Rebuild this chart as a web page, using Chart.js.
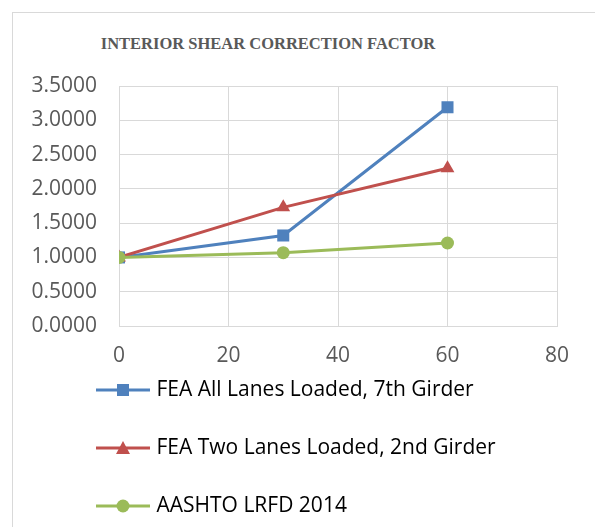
<!DOCTYPE html>
<html>
<head>
<meta charset="utf-8">
<script src="https://cdn.jsdelivr.net/npm/chart.js@4.4.0/dist/chart.umd.min.js"></script>
<style>
  html, body { margin: 0; padding: 0; background: #fff; }
  #wrap { position: relative; width: 595px; height: 527px; overflow: hidden; }
  #frame { position: absolute; left: 12px; top: 12px; width: 700px; height: 600px;
           border-left: 1px solid #d9d9d9; border-top: 1px solid #d9d9d9; }
  #title { position: absolute; left: 0; width: 536px; top: 34px; text-align: center;
           font: bold 16.5px "Liberation Serif", "Times New Roman", serif; color: #595959; }
  canvas { position: absolute; left: 0; top: 0; }
</style>
</head>
<body>
<div id="wrap">
  <div id="frame"></div>
  <div id="title">INTERIOR SHEAR CORRECTION FACTOR</div>
  <canvas id="chart" width="595" height="527"></canvas>
</div>
<script>
const xValues = [0, 30, 60];
const allLanes = [1.0, 1.32, 3.19];
const twoLanes = [1.0, 1.73, 2.30];
const aashto = [1.0, 1.07, 1.21];
const seriesNames = ['FEA All Lanes Loaded, 7th Girder', 'FEA Two Lanes Loaded, 2nd Girder', 'AASHTO LRFD 2014'];
const seriesColors = ['#4f81bd', '#c0504d', '#9bbb59'];
const seriesMarkers = ['rect', 'triangle', 'circle'];
const markerSizes = [8.5, 8, 6.5];

function toPoints(ys) {
    return xValues.map((x, i) => ({ x: x, y: ys[i] }));
}

// little line + marker picture for the legend
function legendIcon(color, marker) {
    const c = document.createElement('canvas');
    c.width = 54;
    c.height = 16;
    const g = c.getContext('2d');
    g.strokeStyle = color;
    g.fillStyle = color;
    g.lineWidth = 3;
    g.beginPath();
    g.moveTo(0, 8);
    g.lineTo(54, 8);
    g.stroke();
    g.beginPath();
    if (marker === 'rect') {
        g.rect(21, 2, 12, 12);
    } else if (marker === 'triangle') {
        g.moveTo(27, 1);
        g.lineTo(34, 14);
        g.lineTo(20, 14);
        g.closePath();
    } else {
        g.arc(27, 8, 6.5, 0, Math.PI * 2);
    }
    g.fill();
    return c;
}

const allSeries = [allLanes, twoLanes, aashto];
const datasets = allSeries.map((ys, i) => ({
    label: seriesNames[i],
    data: toPoints(ys),
    borderColor: seriesColors[i],
    backgroundColor: seriesColors[i],
    borderWidth: 3,
    pointStyle: seriesMarkers[i],
    pointRadius: markerSizes[i],
    pointHoverRadius: markerSizes[i],
    pointBorderWidth: 0,
    showLine: true,
    tension: 0,
    order: 3 - i   // later series drawn on top, like the original
}));

const icons = seriesColors.map((c, i) => legendIcon(c, seriesMarkers[i]));
const textFont = { family: '"Open Sans", "Liberation Sans", sans-serif', size: 21 };

// move the legend so its lines sit under the y labels, just below the x labels
const legendShift = {
    id: 'legendShift',
    afterLayout(chart) {
        const lg = chart.legend;
        const h = lg.bottom - lg.top;
        lg.left = 63;
        lg.top = 342.5;
        lg.bottom = lg.top + h;
    }
};

new Chart(document.getElementById('chart').getContext('2d'), {
    type: 'scatter',
    data: { datasets: datasets },
    plugins: [legendShift],
    options: {
        responsive: false,
        animation: false,
        layout: { padding: { left: 10, top: 86, right: 38, bottom: -27 } },
        plugins: {
            tooltip: { enabled: false },
            legend: {
                position: 'bottom',
                align: 'start',
                labels: {
                    usePointStyle: true,
                    pointStyleWidth: 46,
                    padding: 37,
                    color: '#595959',
                    font: textFont,
                    generateLabels: function(chart) {
                        return chart.data.datasets.map((ds, i) => ({
                            text: ds.label,
                            pointStyle: icons[i],
                            fillStyle: ds.borderColor,
                            strokeStyle: ds.borderColor,
                            lineWidth: 0,
                            hidden: false,
                            datasetIndex: i
                        }));
                    }
                }
            }
        },
        scales: {
            x: {
                type: 'linear',
                min: 0,
                max: 80,
                ticks: { stepSize: 20, color: '#595959', font: textFont, padding: 17 },
                grid: { color: '#d9d9d9', drawTicks: false },
                border: { color: '#d9d9d9' },
                afterFit: function(scale) { scale.height = 44; }
            },
            y: {
                min: 0,
                max: 3.5,
                ticks: {
                    stepSize: 0.5,
                    color: '#595959',
                    font: textFont,
                    padding: 22,
                    callback: v => Number(v).toFixed(4)
                },
                grid: { color: '#d9d9d9', drawTicks: false },
                border: { color: '#d9d9d9' },
                afterFit: function(scale) { scale.width = 109; }
            }
        }
    }
});
</script>
</body>
</html>
